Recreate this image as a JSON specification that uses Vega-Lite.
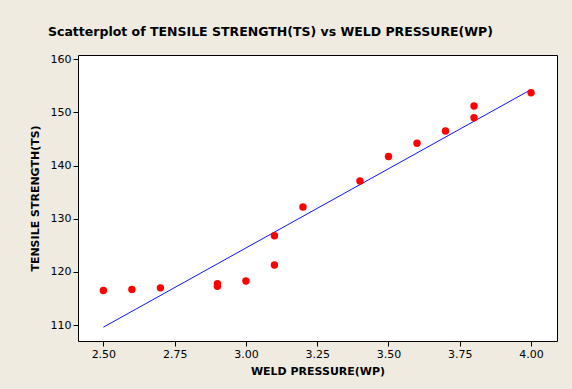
{
  "$schema": "https://vega.github.io/schema/vega-lite/v6.json",
  "width": 479,
  "height": 286,
  "autosize": "none",
  "padding": {"left": 78, "top": 55, "right": 15, "bottom": 48},
  "background": "#EFEBE1",
  "title": {
    "text": "Scatterplot of TENSILE STRENGTH(TS) vs WELD PRESSURE(WP)",
    "anchor": "start",
    "dx": 19,
    "offset": 15,
    "font": "DejaVu Sans",
    "fontSize": 12.5,
    "fontWeight": "bold",
    "color": "#000000"
  },
  "config": {
    "view": {"stroke": "#000000", "strokeWidth": 1, "fill": "#FFFFFF"},
    "axis": {
      "domain": false,
      "grid": false,
      "ticks": true,
      "tickColor": "#000000",
      "tickSize": 5,
      "labelFont": "DejaVu Sans",
      "labelFontSize": 11,
      "labelColor": "#000000",
      "labelPadding": 2,
      "titleFont": "DejaVu Sans",
      "titleFontSize": 11,
      "titleFontWeight": "bold",
      "titleColor": "#000000"
    }
  },
  "datasets": {
    "points": [
      {"WP": 2.5, "TS": 116.5},
      {"WP": 2.6, "TS": 116.7},
      {"WP": 2.7, "TS": 117.0},
      {"WP": 2.9, "TS": 117.3},
      {"WP": 2.9, "TS": 117.8},
      {"WP": 3.0, "TS": 118.3},
      {"WP": 3.1, "TS": 121.3},
      {"WP": 3.1, "TS": 126.8},
      {"WP": 3.2, "TS": 132.2},
      {"WP": 3.4, "TS": 137.1},
      {"WP": 3.5, "TS": 141.7},
      {"WP": 3.6, "TS": 144.2},
      {"WP": 3.7, "TS": 146.5},
      {"WP": 3.8, "TS": 149.0},
      {"WP": 3.8, "TS": 151.2},
      {"WP": 4.0, "TS": 153.7}
    ],
    "fit": [
      {"WP": 2.5, "TS": 109.6},
      {"WP": 4.0, "TS": 154.3}
    ]
  },
  "layer": [
    {
      "data": {"name": "fit"},
      "mark": {"type": "line", "color": "#1010FF", "strokeWidth": 1},
      "encoding": {
        "x": {"field": "WP", "type": "quantitative"},
        "y": {"field": "TS", "type": "quantitative"}
      }
    },
    {
      "data": {"name": "points"},
      "mark": {"type": "circle", "color": "#FF0000", "opacity": 1, "size": 55},
      "encoding": {
        "x": {
          "field": "WP",
          "type": "quantitative",
          "scale": {"domain": [2.411, 4.091], "nice": false, "zero": false},
          "axis": {"title": "WELD PRESSURE(WP)", "values": [2.5, 2.75, 3.0, 3.25, 3.5, 3.75, 4.0], "format": ".2f", "titlePadding": 6}
        },
        "y": {
          "field": "TS",
          "type": "quantitative",
          "scale": {"domain": [107.0, 160.8], "nice": false, "zero": false},
          "axis": {"title": "TENSILE STRENGTH(TS)", "values": [110, 120, 130, 140, 150, 160], "titlePadding": 10}
        }
      }
    }
  ]
}
